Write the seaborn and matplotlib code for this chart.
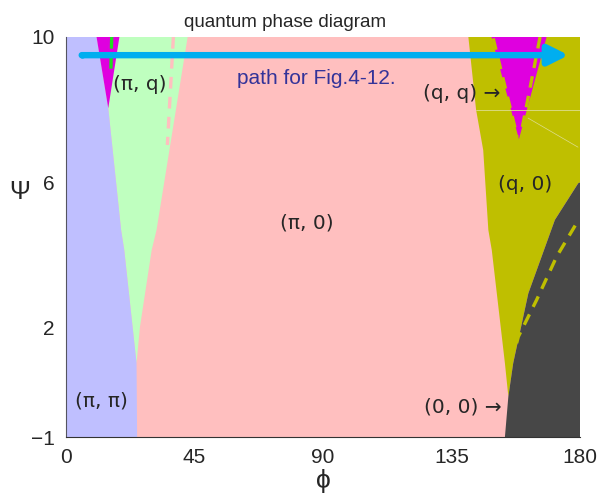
import numpy as np
import matplotlib
matplotlib.use("Agg")
import matplotlib.pyplot as plt
import seaborn as sns

sns.set_style("white")
plt.rcParams['font.family'] = ['Liberation Sans', 'DejaVu Sans']

# phase boundaries: (phi, psi) vertices
pipi_phi = [0, 24.9, 24.7, 20.4, 19.3, 14.8, 10.7, 0]
pipi_psi = [-1, -1, 1.03, 4.14, 4.69, 8.04, 10, 10]

piq_phi = [24.7, 20.4, 19.3, 14.8, 10.7, 42.6, 36.5, 31.7, 30.0, 25.9]
piq_psi = [1.03, 4.14, 4.69, 8.04, 10, 10, 7.03, 4.69, 4.14, 2.03]

qq_left_phi = [10.7, 18.7, 14.8]
qq_left_psi = [10, 10, 8.04]

q0_phi = [140.9, 143.6, 146.1, 147.9, 149.1, 153.7, 154.9,
          156.6, 161.9, 171.2, 179.4, 180, 180]
q0_psi = [10, 8.0, 6.89, 4.69, 4.14, 1.03, 0.11,
          1.03, 2.95, 4.97, 5.98, 6.0, 10]

zz_phi = [153.7, 180, 180, 179.4, 171.2, 161.9, 156.6, 154.9]
zz_psi = [-1, -1, 6.0, 5.98, 4.97, 2.95, 1.03, 0.11]

qq_right_phi = [149.0, 168.3, 158.6]
qq_right_psi = [10, 10, 7.19]

# dashed lines
dash_pink_phi, dash_pink_psi = [37.6, 35.5], [10, 7.03]
dash_green_phi, dash_green_psi = [16.0, 15.7], [10, 9.05]
dash_qqa_phi, dash_qqa_psi = [149.6, 158.0], [9.96, 7.26]
dash_qqb_phi, dash_qqb_psi = [166.0, 159.6], [10, 7.44]
dash_zz_phi = [157.8, 158.4, 164.8, 171.8, 178.8]
dash_zz_psi = [1.58, 1.76, 2.77, 3.96, 4.88]

# path arrow
path_phi = [5.5, 176.0]
path_psi = 9.5

labels = ["(π, q)", "(π, 0)", "(π, π)", "(q, 0)"]
label_phi = [25.9, 84.2, 12.3, 160.7]
label_psi = [8.7, 4.88, -0.01, 5.93]

fig = plt.figure(figsize=(6, 4.97), dpi=100)
ax = fig.add_axes([0.11, 0.1207, 0.8567, 0.8049])

pink = '#ffbfbf'
ax.fill([0, 180, 180, 0], [-1, -1, 10, 10], color=pink, lw=0)
ax.fill(piq_phi, piq_psi, color='#bfffbf', lw=0)
ax.fill(pipi_phi, pipi_psi, color='#bfbfff', lw=0)
ax.fill(qq_left_phi, qq_left_psi, color='#df00df', lw=0)
ax.fill(q0_phi, q0_psi, color='#bfbf00', lw=0)
ax.fill(zz_phi, zz_psi, color='#474747', lw=0)
ax.fill(qq_right_phi, qq_right_psi, color='#df00df', lw=0)

# faint seams
ax.plot([143.6, 180], [8.0, 8.0], color='#dede90', lw=0.6)
ax.plot([161.8, 179.3], [7.77, 6.97], color='#dede90', lw=0.5)

dash = dict(lw=2.4, linestyle=(0, (3.5, 2.5)), sort=False, ax=ax, legend=False)
sns.lineplot(x=dash_pink_phi, y=dash_pink_psi, color=pink, **dash)
sns.lineplot(x=dash_green_phi, y=dash_green_psi, color='#22dd22', **dash)
sns.lineplot(x=dash_qqa_phi, y=dash_qqa_psi, color='#bfbf00', **dash)
sns.lineplot(x=dash_qqb_phi, y=dash_qqb_psi, color='#bfbf00', **dash)
sns.lineplot(x=dash_zz_phi, y=dash_zz_psi, color='#bfbf00', **dash)

ax.plot(path_phi[0], path_psi, 'o', color='#00aeef', ms=4.6, mew=0)
ax.annotate("", xy=(path_phi[1], path_psi), xytext=(path_phi[0], path_psi),
            arrowprops=dict(arrowstyle='-|>,head_length=0.6,head_width=0.3',
                            mutation_scale=20, color='#00aeef', lw=4.6,
                            shrinkA=0, shrinkB=0))
ax.text(87.5, 8.85, "path for Fig.4-12.", color='#333399', fontsize=15,
        ha='center', va='center')

for t, x, y in zip(labels, label_phi, label_psi):
    ax.text(x, y, t, fontsize=14.5, ha='center', va='center', family='DejaVu Sans')
ax.text(152.2, 8.45, "(q, q) →", fontsize=14.5, ha='right', va='center',
        family='DejaVu Sans')
ax.text(152.6, -0.17, "(0, 0) →", fontsize=14.5, ha='right', va='center',
        family='DejaVu Sans')

ax.set_xlim(0, 180)
ax.set_ylim(-1, 10)
ax.set_xticks([0, 45, 90, 135, 180])
ax.set_yticks([-1, 2, 6, 10])
ax.set_yticklabels(['−1', '2', '6', '10'])
ax.tick_params(length=0, labelsize=15)
ax.tick_params(axis='x', pad=8)
ax.tick_params(axis='y', pad=8)
ax.set_xlabel("ϕ", fontsize=19, labelpad=1)
ax.set_ylabel("Ψ", fontsize=18, rotation=0, va='center', ha='center')
ax.yaxis.set_label_coords(-0.09, 0.6125)
ax.set_title("quantum phase diagram", fontsize=13.5, x=0.426, pad=7)
for s in ['top', 'right']:
    ax.spines[s].set_visible(False)
ax.spines['left'].set_color('#555560')
ax.spines['bottom'].set_color('#333333')

fig.savefig("out.png", dpi=100)
